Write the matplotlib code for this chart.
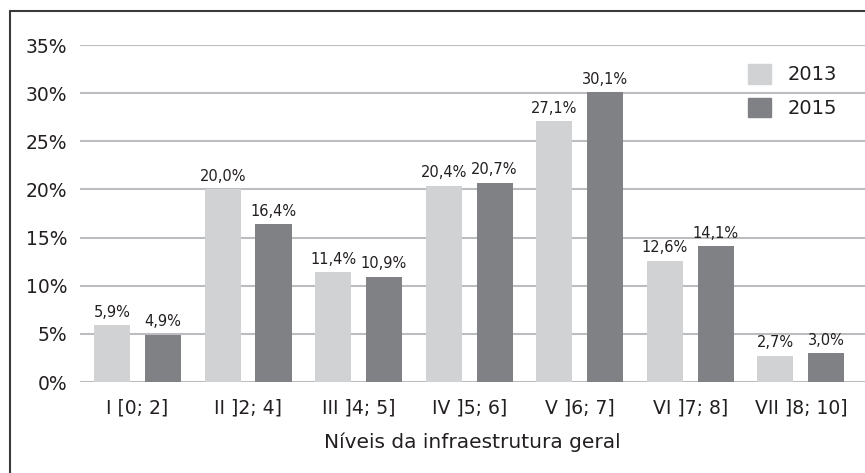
import matplotlib.pyplot as plt
import numpy as np
from matplotlib.patches import Patch, Rectangle

CATEGORIES = ["I [0; 2]", "II ]2; 4]", "III ]4; 5]", "IV ]5; 6]",
              "V ]6; 7]", "VI ]7; 8]", "VII ]8; 10]"]
VALUES_2013 = [5.9, 20.0, 11.4, 20.4, 27.1, 12.6, 2.7]
VALUES_2015 = [4.9, 16.4, 10.9, 20.7, 30.1, 14.1, 3.0]
Y_TICKS = [0, 5, 10, 15, 20, 25, 30, 35]

LIGHT = "#d1d2d4"
DARK = "#808184"
TEXT = "#231f20"
GRID = "#bcbdc0"


def fmt(v: float) -> str:
    return f"{v:.1f}%".replace(".", ",")


def main() -> None:
    plt.rcParams["font.family"] = ["DejaVu Sans"]
    fig = plt.figure(figsize=(8.65, 4.73), dpi=100)
    ax = fig.add_axes([80 / 865, 1 - 382 / 473, 785 / 865, (382 - 45) / 473])

    x = np.arange(len(CATEGORIES))
    off = 0.23
    width = 0.326
    for yv in Y_TICKS:
        ax.axhline(yv, color=GRID, linewidth=1.5, zorder=0)
    b1 = ax.bar(x - off, VALUES_2013, width, color=LIGHT, zorder=2)
    b2 = ax.bar(x + off, VALUES_2015, width, color=DARK, zorder=2)
    for bars, vals in ((b1, VALUES_2013), (b2, VALUES_2015)):
        for rect, v in zip(bars, vals):
            ax.annotate(fmt(v), (rect.get_x() + rect.get_width() / 2, v),
                        xytext=(0, 4), textcoords="offset points",
                        ha="center", va="bottom", fontsize=10.5, color=TEXT)

    ax.set_xlim(-0.52, 6.58)
    ax.set_ylim(0, 35)
    ax.set_yticks(Y_TICKS)
    ax.set_yticklabels([f"{t}%" for t in Y_TICKS], fontsize=13.5, color=TEXT)
    ax.set_xticks(x)
    ax.set_xticklabels(CATEGORIES, fontsize=13.5, color=TEXT)
    ax.tick_params(length=0)
    ax.tick_params(axis="y", pad=9)
    ax.tick_params(axis="x", pad=12)
    for s in ax.spines.values():
        s.set_visible(False)
    ax.set_xlabel("Níveis da infraestrutura geral", fontsize=14.5, color=TEXT, labelpad=11)

    handles = [Patch(color=LIGHT), Patch(color=DARK)]
    ax.legend(handles, ["2013", "2015"], loc="upper left",
              bbox_to_anchor=(748 / 865, 1 - 64 / 473), bbox_transform=fig.transFigure,
              frameon=False, fontsize=14, handlelength=1.18, handleheight=1.18,
              handletextpad=0.85, labelspacing=0.68, borderpad=0, borderaxespad=0,
              labelcolor=TEXT)

    fig.patches.append(Rectangle((10 / 865, -0.1), 1.1, 1.1 - 11 / 473,
                                 transform=fig.transFigure, fill=False,
                                 edgecolor="#3a3a3a", linewidth=1.5))
    fig.savefig("out.png", dpi=100)


if __name__ == "__main__":
    main()
